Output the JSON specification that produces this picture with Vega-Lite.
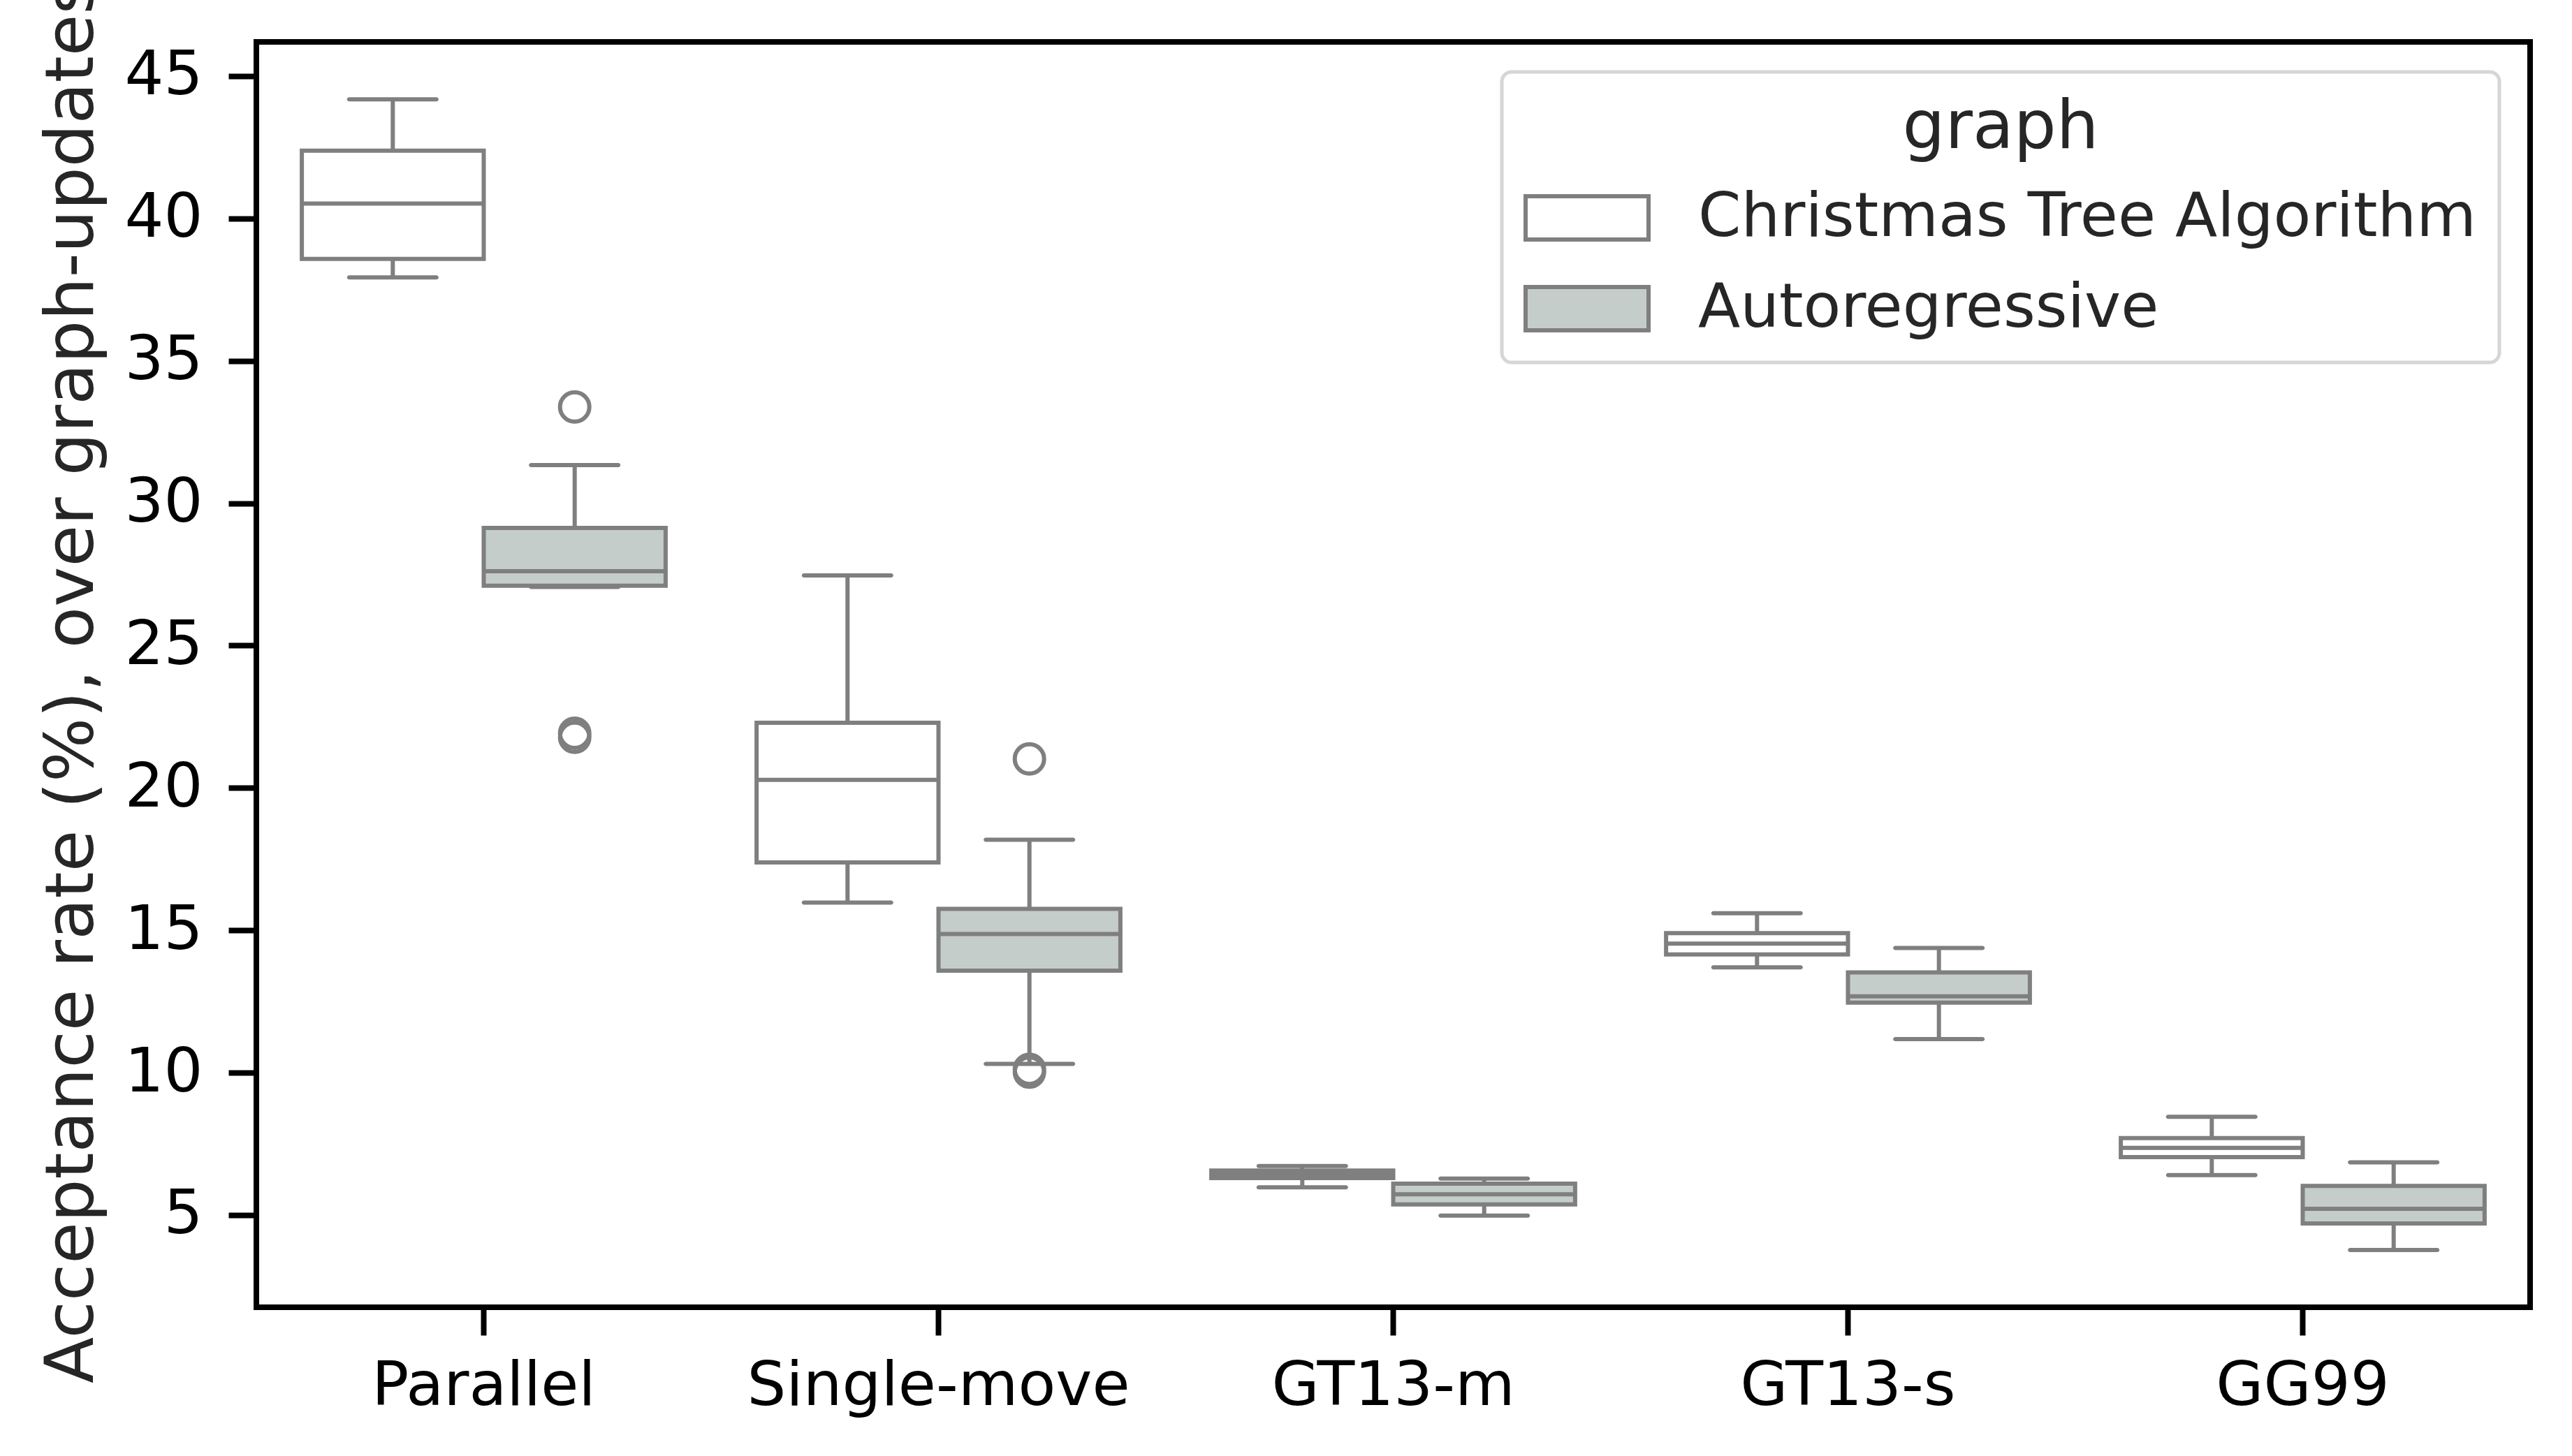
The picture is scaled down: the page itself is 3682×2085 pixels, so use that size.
{
  "$schema": "https://vega.github.io/schema/vega-lite/v6.json",
  "autosize": {"type": "none"},
  "padding": {"left": 367, "top": 60, "right": 60, "bottom": 213},
  "width": 3255,
  "height": 1812,
  "background": "white",
  "datasets": {
    "boxes": [
      {"method": "Parallel", "graph": "Christmas Tree Algorithm", "lo": 37.93, "q1": 38.58, "med": 40.52, "q3": 42.38, "hi": 44.18},
      {"method": "Parallel", "graph": "Autoregressive", "lo": 27.06, "q1": 27.1, "med": 27.61, "q3": 29.13, "hi": 31.34},
      {"method": "Single-move", "graph": "Christmas Tree Algorithm", "lo": 15.97, "q1": 17.38, "med": 20.28, "q3": 22.29, "hi": 27.46},
      {"method": "Single-move", "graph": "Autoregressive", "lo": 10.31, "q1": 13.58, "med": 14.87, "q3": 15.75, "hi": 18.18},
      {"method": "GT13-m", "graph": "Christmas Tree Algorithm", "lo": 5.97, "q1": 6.3, "med": 6.42, "q3": 6.56, "hi": 6.72},
      {"method": "GT13-m", "graph": "Autoregressive", "lo": 4.98, "q1": 5.37, "med": 5.73, "q3": 6.1, "hi": 6.28},
      {"method": "GT13-s", "graph": "Christmas Tree Algorithm", "lo": 13.7, "q1": 14.15, "med": 14.53, "q3": 14.9, "hi": 15.6},
      {"method": "GT13-s", "graph": "Autoregressive", "lo": 11.18, "q1": 12.46, "med": 12.68, "q3": 13.52, "hi": 14.38},
      {"method": "GG99", "graph": "Christmas Tree Algorithm", "lo": 6.4, "q1": 7.03, "med": 7.36, "q3": 7.7, "hi": 8.45},
      {"method": "GG99", "graph": "Autoregressive", "lo": 3.77, "q1": 4.7, "med": 5.22, "q3": 6.02, "hi": 6.85}
    ],
    "outliers": [
      {"method": "Parallel", "graph": "Autoregressive", "value": 33.38},
      {"method": "Parallel", "graph": "Autoregressive", "value": 21.92},
      {"method": "Parallel", "graph": "Autoregressive", "value": 21.78},
      {"method": "Single-move", "graph": "Autoregressive", "value": 21.02},
      {"method": "Single-move", "graph": "Autoregressive", "value": 10.12},
      {"method": "Single-move", "graph": "Autoregressive", "value": 10.02}
    ]
  },
  "encoding": {
    "x": {
      "field": "method",
      "type": "nominal",
      "scale": {"domain": ["Parallel", "Single-move", "GT13-m", "GT13-s", "GG99"], "paddingInner": 0, "paddingOuter": 0},
      "axis": {"title": null, "labelAngle": 0}
    },
    "xOffset": {
      "field": "graph",
      "type": "nominal",
      "scale": {"domain": ["Christmas Tree Algorithm", "Autoregressive"], "paddingInner": 0, "paddingOuter": 0.25}
    }
  },
  "layer": [
    {
      "data": {"name": "boxes"},
      "mark": {"type": "rule", "stroke": "#7f7f7f", "strokeWidth": 6},
      "encoding": {
        "y": {"field": "lo", "type": "quantitative", "scale": {"domain": [1.76, 46.2], "nice": false, "zero": false}, "axis": {"values": [5, 10, 15, 20, 25, 30, 35, 40, 45]}, "title": "Acceptance rate (%), over graph-updates"},
        "y2": {"field": "hi"}
      }
    },
    {
      "data": {"name": "boxes"},
      "mark": {"type": "tick", "color": "#7f7f7f", "size": 131, "thickness": 6, "opacity": 1, "cornerRadius": 3},
      "encoding": {
        "y": {"field": "lo", "type": "quantitative", "scale": {"domain": [1.76, 46.2], "nice": false, "zero": false}, "title": "Acceptance rate (%), over graph-updates"}
      }
    },
    {
      "data": {"name": "boxes"},
      "mark": {"type": "tick", "color": "#7f7f7f", "size": 131, "thickness": 6, "opacity": 1, "cornerRadius": 3},
      "encoding": {
        "y": {"field": "hi", "type": "quantitative", "scale": {"domain": [1.76, 46.2], "nice": false, "zero": false}, "title": "Acceptance rate (%), over graph-updates"}
      }
    },
    {
      "data": {"name": "boxes"},
      "mark": {"type": "bar", "stroke": "#7f7f7f", "strokeWidth": 6, "opacity": 1},
      "encoding": {
        "y": {"field": "q1", "type": "quantitative", "scale": {"domain": [1.76, 46.2], "nice": false, "zero": false}, "title": "Acceptance rate (%), over graph-updates"},
        "y2": {"field": "q3"},
        "fill": {
          "field": "graph",
          "type": "nominal",
          "scale": {"domain": ["Christmas Tree Algorithm", "Autoregressive"], "range": ["#ffffff", "#c4cdca"]},
          "legend": {
            "title": "graph",
            "orient": "none",
            "legendX": 1783,
            "legendY": 43
          }
        }
      }
    },
    {
      "data": {"name": "boxes"},
      "mark": {"type": "tick", "color": "#7f7f7f", "size": 260, "thickness": 6, "opacity": 1},
      "encoding": {
        "y": {"field": "med", "type": "quantitative", "scale": {"domain": [1.76, 46.2], "nice": false, "zero": false}, "title": "Acceptance rate (%), over graph-updates"}
      }
    },
    {
      "data": {"name": "outliers"},
      "mark": {"type": "point", "shape": "circle", "filled": false, "stroke": "#7f7f7f", "strokeWidth": 6, "size": 1764, "opacity": 1},
      "encoding": {
        "y": {"field": "value", "type": "quantitative", "scale": {"domain": [1.76, 46.2], "nice": false, "zero": false}, "title": "Acceptance rate (%), over graph-updates"}
      }
    }
  ],
  "config": {
    "font": "DejaVu Sans",
    "view": {"stroke": "black", "strokeWidth": 8},
    "axis": {
      "grid": false,
      "domain": false,
      "tickColor": "black",
      "tickWidth": 8,
      "tickSize": 40,
      "labelFont": "DejaVu Sans",
      "labelFontSize": 88,
      "labelColor": "black",
      "labelLimit": 3000,
      "titleFont": "DejaVu Sans",
      "titleFontSize": 97,
      "titleFontWeight": "normal",
      "titleColor": "#262626",
      "titleLimit": 5000
    },
    "axisX": {"labelPadding": 29},
    "axisY": {"labelPadding": 37, "titleAngle": 270, "titleBaseline": "alphabetic", "titleAlign": "center", "titleX": -235, "titleY": 915},
    "legend": {
      "padding": 33,
      "fillColor": "white",
      "strokeColor": "#d6d6d6",
      "strokeWidth": 5,
      "cornerRadius": 14,
      "titleFont": "DejaVu Sans",
      "titleFontSize": 96,
      "titleFontWeight": "normal",
      "titleColor": "#262626",
      "titleAnchor": "middle",
      "titleAlign": "center",
      "titleLimit": 3000,
      "titlePadding": 36,
      "labelFont": "DejaVu Sans",
      "labelFontSize": 88,
      "labelColor": "#262626",
      "labelLimit": 3000,
      "labelOffset": 115,
      "symbolType": "M-2.2,-0.775H2.2V0.775H-2.2Z",
      "symbolSize": 6400,
      "symbolOffset": 45,
      "symbolStrokeWidth": 6,
      "symbolStrokeColor": "#7f7f7f",
      "rowPadding": 42
    }
  }
}
